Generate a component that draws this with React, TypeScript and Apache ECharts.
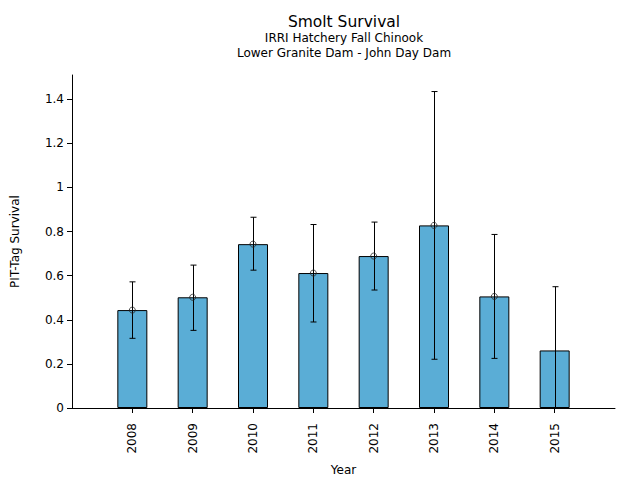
import React, { useEffect, useRef } from "react";
import * as echarts from "echarts";

const years = [2008, 2009, 2010, 2011, 2012, 2013, 2014, 2015];
const survival = [0.444, 0.502, 0.743, 0.612, 0.689, 0.828, 0.506, 0.261];
const markerValues: (number | null)[] = [0.444, 0.502, 0.743, 0.612, 0.689, 0.828, 0.506, null];
const lowerCI = [0.316, 0.352, 0.625, 0.39, 0.535, 0.221, 0.225, 0.0];
const upperCI = [0.572, 0.648, 0.865, 0.832, 0.843, 1.435, 0.787, 0.55];
const yTicks = [0, 0.2, 0.4, 0.6, 0.8, 1, 1.2, 1.4];

const FONT = "DejaVu Sans";

export default function App() {
  const ref = useRef<HTMLDivElement>(null);
  useEffect(() => {
    document.body.style.margin = "0";
    const chart = echarts.init(ref.current!, null, { renderer: "svg" });
    chart.setOption({
      animation: false,
      textStyle: { fontFamily: FONT },
      grid: { left: 72, right: 25, top: 75, bottom: 72, containLabel: false, outerBoundsMode: "none" },
      graphic: [
        { type: "text", x: 344, y: 22, style: { text: "Smolt Survival", textAlign: "center", textVerticalAlign: "middle", font: `15.5px ${FONT}`, fill: "#000" } },
        { type: "text", x: 344, y: 38, style: { text: "IRRI Hatchery Fall Chinook", textAlign: "center", textVerticalAlign: "middle", font: `12px ${FONT}`, fill: "#000" } },
        { type: "text", x: 344, y: 53, style: { text: "Lower Granite Dam - John Day Dam", textAlign: "center", textVerticalAlign: "middle", font: `12px ${FONT}`, fill: "#000" } },
      ],
      xAxis: {
        type: "value",
        min: 2007,
        max: 2016,
        interval: 1,
        splitLine: { show: false },
        axisLine: { show: true, lineStyle: { color: "#000", width: 1 } },
        axisTick: { show: true, length: 5, customValues: years, lineStyle: { color: "#000" } },
        axisLabel: {
          customValues: years,
          rotate: 90,
          margin: 15,
          color: "#000",
          fontSize: 12,
          fontFamily: FONT,
          formatter: (v: number) => String(v),
        },
        name: "Year",
        nameLocation: "middle",
        nameGap: 56,
        nameTextStyle: { color: "#000", fontSize: 12, fontFamily: FONT },
      },
      yAxis: {
        type: "value",
        min: 0,
        max: 1.51,
        splitLine: { show: false },
        axisLine: { show: true, lineStyle: { color: "#000", width: 1 } },
        axisTick: { show: true, length: 5, customValues: yTicks, lineStyle: { color: "#000" } },
        axisLabel: { customValues: yTicks, margin: 8, color: "#000", fontSize: 12, fontFamily: FONT },
        name: "PIT-Tag Survival",
        nameLocation: "middle",
        nameGap: 51,
        nameTextStyle: { color: "#000", fontSize: 12, fontFamily: FONT },
      },
      series: [
        {
          type: "bar",
          data: years.map((y, i) => [y, survival[i]]),
          barWidth: 30,
          itemStyle: { color: "#5aadd6", borderColor: "#000", borderWidth: 1 },
          z: 2,
        },
        {
          type: "custom",
          data: years.map((y, i) => [y, lowerCI[i], upperCI[i]]),
          z: 3,
          renderItem: (params: any, api: any) => {
            const x = api.value(0);
            const lo = api.coord([x, api.value(1)]);
            const hi = api.coord([x, api.value(2)]);
            const cx = Math.round(lo[0]) + 0.5;
            const cap = 3;
            const style = { stroke: "#000", lineWidth: 1 };
            return {
              type: "group",
              children: [
                { type: "line", shape: { x1: cx, y1: lo[1], x2: cx, y2: hi[1] }, style },
                { type: "line", shape: { x1: cx - cap, y1: hi[1], x2: cx + cap, y2: hi[1] }, style },
                { type: "line", shape: { x1: cx - cap, y1: lo[1], x2: cx + cap, y2: lo[1] }, style },
              ],
            };
          },
        },
        {
          type: "scatter",
          data: years.map((y, i) => [y, markerValues[i]]).filter((d) => d[1] !== null),
          symbol: "circle",
          symbolSize: 6,
          itemStyle: { color: "rgba(0,0,0,0)", borderColor: "#222", borderWidth: 1 },
          z: 4,
        },
      ],
    });
    return () => chart.dispose();
  }, []);
  return <div ref={ref} style={{ width: 640, height: 480 }} />;
}
